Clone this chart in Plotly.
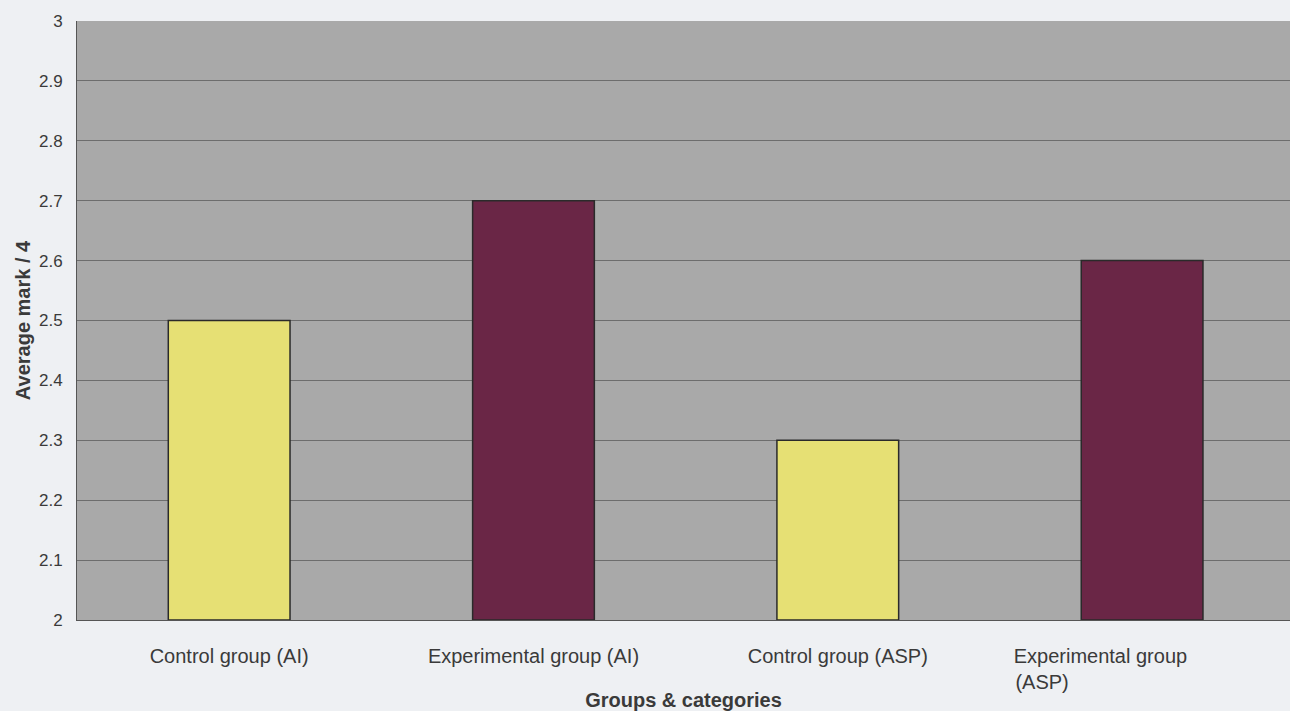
import plotly.graph_objects as go

NB = "\u00a0"
categories = ["Control group (AI)", "Experimental group (AI)", "Control group (ASP)", "Experimental group (ASP)"]
tick_labels = ["Control group (AI)", "Experimental group (AI)", "Control group (ASP)",
               "Experimental group" + NB * 15 + "<br>(ASP)" + NB * 36]
values = [2.5, 2.7, 2.3, 2.6]
bar_colors = ["#e6e074", "#6a2646", "#e6e074", "#6a2646"]
y_ticks = [2, 2.1, 2.2, 2.3, 2.4, 2.5, 2.6, 2.7, 2.8, 2.9, 3]
y_tick_text = ["2", "2.1", "2.2", "2.3", "2.4", "2.5", "2.6", "2.7", "2.8", "2.9", "3"]
y_base = 2

fig = go.Figure(go.Bar(
    x=categories, y=[v - y_base for v in values],
    base=y_base,
    marker=dict(color=bar_colors, line=dict(color="#2a2a2a", width=1.5)),
    width=0.4,
    hoverinfo="skip",
))

fig.update_layout(
    width=1290, height=711,
    margin=dict(l=77, r=0, t=21, b=91),
    paper_bgcolor="#eef0f3",
    plot_bgcolor="#a9a9a9",
    font=dict(family="Arial, Liberation Sans, sans-serif", size=17, color="#3a3a3a"),
    showlegend=False,
)
fig.update_yaxes(
    range=[2, 3], tickvals=y_ticks, ticktext=y_tick_text,
    showgrid=True, gridcolor="#6d6d6d", gridwidth=1,
    showline=True, linecolor="#555555", linewidth=1,
    ticks="", zeroline=False, ticklabelstandoff=10,
    tickfont=dict(size=17, color="#3a3a3a"),
    title=dict(text="<b>Average mark / 4</b>", font=dict(size=20, color="#3a3a3a"), standoff=2),
)
fig.update_xaxes(
    range=[-0.5, 3.486],
    tickvals=categories, ticktext=tick_labels,
    showline=True, linecolor="#555555", linewidth=1,
    ticks="", ticklabelstandoff=18, tickfont=dict(size=20, color="#3a3a3a"),
    title=dict(text="<b>Groups & categories</b>", font=dict(size=20, color="#3a3a3a"), standoff=0),
)
fig.write_html("out.html", config={"displayModeBar": False},
               post_script="document.body.style.margin='0';document.body.style.overflow='hidden';")
